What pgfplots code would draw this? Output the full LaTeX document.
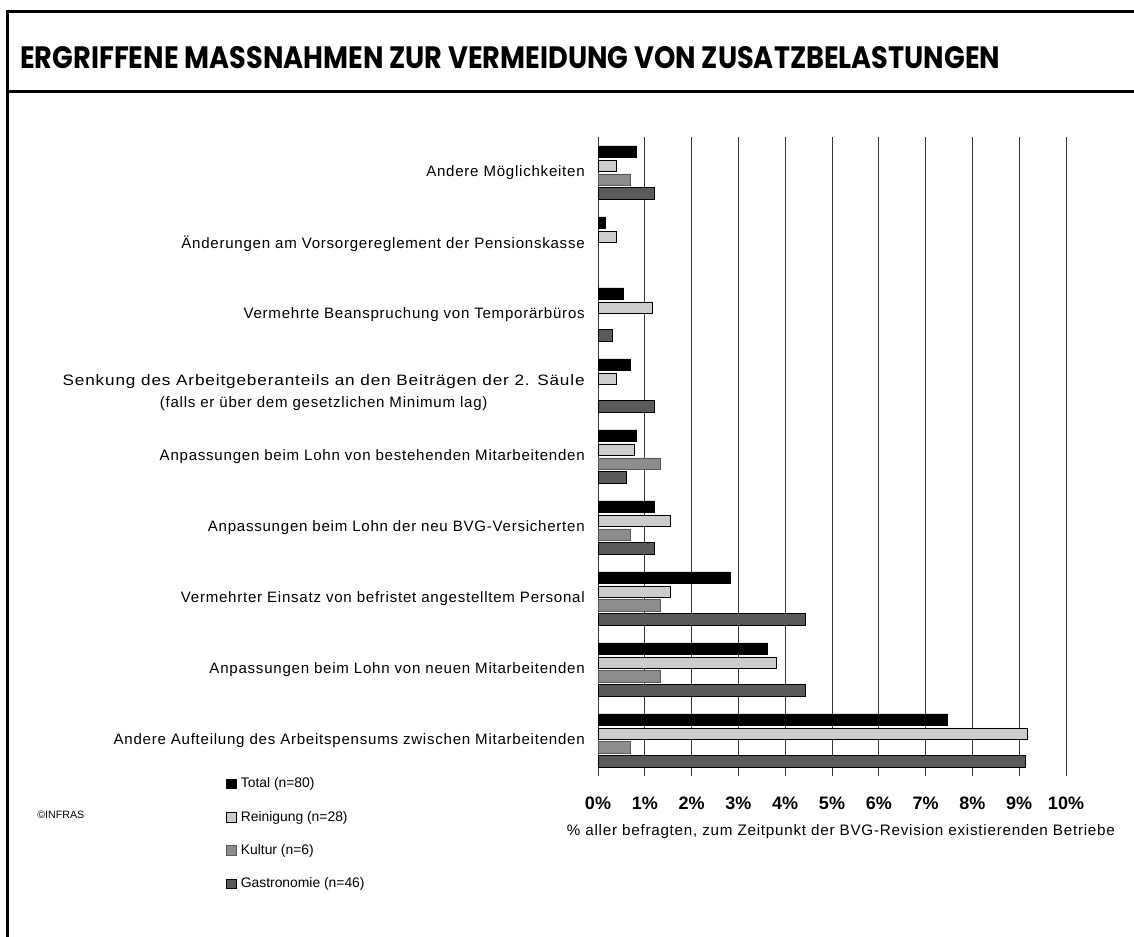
\documentclass[border=0pt]{standalone}
\usepackage{fontspec}
\setmainfont{Liberation Sans}
\newfontfamily\titlefont{Poppins}
\newfontfamily\lblfont{Liberation Sans}[LetterSpace=5]
\usepackage{pgfplots}
\pgfplotsset{compat=1.18}
\definecolor{cTotal}{HTML}{000000}
\definecolor{cRein}{HTML}{CCCCCC}
\definecolor{cKult}{HTML}{8C8C8C}
\definecolor{cGast}{HTML}{5A5A5A}
\begin{document}
\begin{tikzpicture}[x=0.75pt,y=0.75pt]
\path[use as bounding box] (0,0) rectangle (1134,936);
\begin{scope}
\clip (0,0) rectangle (1134,936);
\draw[line width=2.25pt] (7.5,-20) -- (7.5,924.5) -- (1150,924.5);
\draw[line width=2.25pt] (7.5,844) -- (1150,844);
\end{scope}
\node[anchor=south west,inner sep=0pt] at (20,867) {\resizebox{735pt}{16.5pt}{\titlefont\bfseries ERGRIFFENE MASSNAHMEN ZUR VERMEIDUNG VON ZUSATZBELASTUNGEN}};
\node[anchor=west,inner sep=0pt,font=\fontsize{8}{9}\selectfont] at (37,121) {©INFRAS};
\begin{axis}[
  at={(448.5pt,120pt)}, anchor=south west,
  scale only axis, width=351pt, height=479.25pt,
  xbar, bar width=0.158,
  xmin=0, xmax=10, ymin=-0.5, ymax=8.5,
  y dir=reverse,
  axis line style={draw=none},
  major tick length=0pt,
  xtick={0,1,...,10},
  xmajorgrids, grid style={black!80, line width=0.75pt},
  xticklabel={\textbf{\pgfmathprintnumber[assume math mode=true]{\tick}\%}},
  xticklabel style={anchor=center, inner sep=0pt, yshift=-20.25pt, font=\fontsize{13.5}{15}\selectfont},
  xlabel={\% aller befragten, zum Zeitpunkt der BVG-Revision existierenden Betriebe},
  xlabel style={at={(axis description cs:0.519,0)}, anchor=center, yshift=-42pt, inner sep=0pt, font=\lblfont\fontsize{11.4}{13}\selectfont},
  ytick={0,...,8},
  yticklabels={
    Andere Möglichkeiten,
    Änderungen am Vorsorgereglement der Pensionskasse,
    Vermehrte Beanspruchung von Temporärbüros,
    {\rule{0pt}{19pt}\scalebox{1.14}[1]{Senkung des Arbeitgeberanteils an den Beiträgen der 2. Säule}\\(falls er über dem gesetzlichen Minimum lag)},
    Anpassungen beim Lohn von bestehenden Mitarbeitenden,
    Anpassungen beim Lohn der neu BVG-Versicherten,
    Vermehrter Einsatz von befristet angestelltem Personal,
    Anpassungen beim Lohn von neuen Mitarbeitenden,
    Andere Aufteilung des Arbeitspensums zwischen Mitarbeitenden},
  yticklabel style={anchor=east, align=center, inner sep=0pt, xshift=-9.75pt, font=\lblfont\fontsize{11.3}{16.5}\selectfont},
  legend style={draw=none, fill=none, at={(axis description cs:-0.803,0.006)}, anchor=north west,
    font=\fontsize{10.4}{12}\selectfont, row sep=12pt, column sep=1pt},
  legend cell align=left,
  legend image code/.code={\draw[#1,line width=0.6pt] (0pt,-3.6pt) rectangle (7.2pt,3.6pt);},
]
\addplot[fill=cTotal, draw=black, line width=0.6pt, bar shift=-0.295] coordinates {
(0.82,0) (0.15,1) (0.55,2) (0.69,3) (0.82,4) (1.21,5) (2.82,6) (3.61,7) (7.46,8)};
\addlegendentry{Total (n=80)}
\addplot[fill=cRein, draw=black, line width=0.6pt, bar shift=-0.0985] coordinates {
(0.40,0) (0.40,1) (1.16,2) (0.40,3) (0.78,4) (1.54,5) (1.54,6) (3.82,7) (9.18,8)};
\addlegendentry{Reinigung (n=28)}
\addplot[fill=cKult, draw=black!65, line width=0.6pt, bar shift=0.0985] coordinates {
(0.69,0) (1.34,4) (0.69,5) (1.34,6) (1.34,7) (0.69,8)};
\addlegendentry{Kultur (n=6)}
\addplot[fill=cGast, draw=black, line width=0.6pt, bar shift=0.295] coordinates {
(1.20,0) (0.31,2) (1.20,3) (0.61,4) (1.20,5) (4.44,6) (4.44,7) (9.14,8)};
\addlegendentry{Gastronomie (n=46)}
\end{axis}
\end{tikzpicture}
\end{document}
